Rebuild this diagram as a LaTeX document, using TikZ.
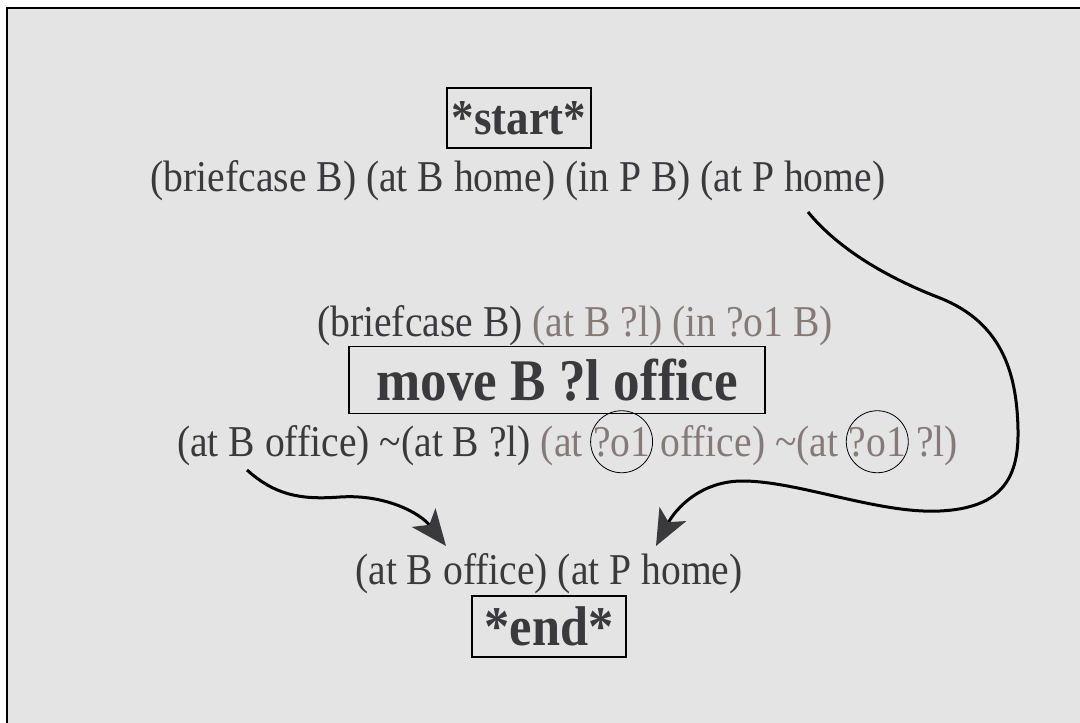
\documentclass[tikz,border=0pt]{standalone}
\usepackage{fontspec}
\setmainfont{Liberation Serif}[FakeStretch=0.9]
\usetikzlibrary{arrows.meta,positioning}
\definecolor{bgGray}{HTML}{E4E4E4}
\definecolor{inkDark}{HTML}{3A3A3D}
\definecolor{inkFaded}{HTML}{857A77}

\begin{document}
\begin{tikzpicture}[x=1pt, y=-1pt,
    lit/.style={inner sep=0pt, anchor=base, text=inkDark, font=\fontsize{44}{46}\selectfont},
    faded/.style={text=inkFaded},
    stepbox/.style={draw, line width=1.8pt, inner sep=0pt, text=inkDark, font=\bfseries\fontsize{56}{58}\selectfont},
    ring/.style={draw, circle, line width=0.8pt, minimum size=62pt, inner sep=0pt},
    flow/.style={line width=3pt, -{Stealth[length=36pt, width=30pt, inset=9pt, color=inkDark]}}
]
    \useasboundingbox (0,0) rectangle (1080,723);
    % --- slide background ---
    \filldraw[fill=bgGray, line width=2pt] (7,8) rectangle (1100,740);

    % --- start step and initial state ---
    \node[stepbox, font=\bfseries\fontsize{50}{52}\selectfont, minimum width=144pt, minimum height=60pt] (start) at (519,118) {*start*};
    \node[lit] (init) at (518,191) {(briefcase B) (at B home) (in P B) (at P home)};

    % --- the move step: preconditions above, effects below ---
    \node[lit] (pre) at (575,336) {(briefcase B) \textcolor{inkFaded}{(at B ?l) (in ?o1 B)}};
    \node[stepbox, font=\bfseries\fontsize{59}{61}\selectfont, minimum width=416pt, minimum height=67pt] (move) at (557,380) {move B ?l office};

    \node[lit, anchor=base west] (effA) at (177,456) {(at B office) \textasciitilde(at B ?l) \textcolor{inkFaded}{(at}};
    \node[lit, faded, base right=9.9pt of effA] (objA) {?o1};
    \node[lit, faded, base right=9.9pt of objA] (effB) {office) \textasciitilde(at};
    \node[lit, faded, base right=9.9pt of effB] (objB) {?o1};
    \node[lit, faded, base right=9.9pt of objB] (effC) {?l)};
    \node[ring] (ringA) at (objA.center) {};
    \node[ring] (ringB) at (objB.center) {};

    % --- goal state and end step ---
    \node[lit] (goal) at (549,584) {(at B office) (at P home)};
    \node[stepbox, minimum width=154pt, minimum height=61pt] (end) at (549,626.5) {*end*};

    % --- causal links ---
    \coordinate (effTail) at (247,470);
    \coordinate (initTail) at (808,212);
    \coordinate (goalL) at (446,546);
    \coordinate (goalR) at (656,546);
    \draw[flow] (effTail) .. controls (275,495) and (300,500) .. (340,497)
        .. controls (385,494) and (420,513) .. (goalL);
    \draw[flow] (initTail) .. controls (835,245) and (880,275) .. (940,298)
        .. controls (1000,322) and (1017,370) .. (1018,430)
        .. controls (1019,480) and (1000,508) .. (940,511)
        .. controls (880,514) and (800,482) .. (745,481)
        .. controls (700,480) and (675,510) .. (goalR);
\end{tikzpicture}
\end{document}
